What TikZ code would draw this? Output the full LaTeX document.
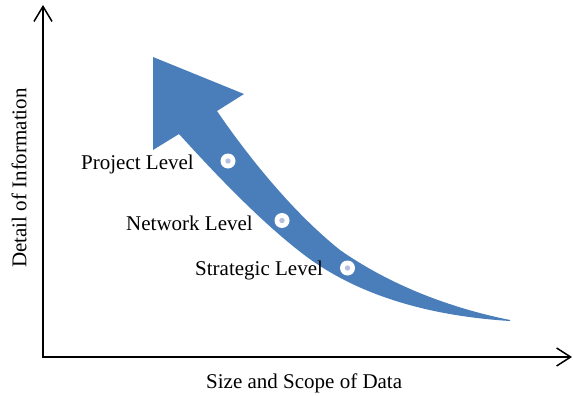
\documentclass[tikz,border=0pt]{standalone}
\usepackage{fontspec}
\setmainfont{Liberation Serif}
\usetikzlibrary{arrows.meta}
\definecolor{arrowblue}{RGB}{74,126,187}
\definecolor{dotblue}{RGB}{180,192,222}
\tikzset{
  axisline/.style={line width=1.5pt, black, {Straight Barb[length=15pt,width=18pt,line width=1.5pt]}-{Straight Barb[length=14pt,width=18pt,line width=1.5pt]}},
  lbl/.style={inner sep=0pt, anchor=base west, font=\fontsize{21}{25}\selectfont},
  ring/.style={circle, fill=white, minimum size=15pt, inner sep=0pt},
  ringdot/.style={circle, fill=dotblue, minimum size=5.4pt, inner sep=0pt}
}
\begin{document}
\begin{tikzpicture}[x=1pt,y=-1pt]
\useasboundingbox (0,0) rectangle (573,396);
% axes
\coordinate (O) at (43,357);
\coordinate (ytip) at (43,5);
\coordinate (xtip) at (572,357);
\draw[axisline] (ytip) -- (O) -- (xtip);
% curved arrow
\fill[arrowblue] (153,57) -- (244,94) -- (217,111)
  .. controls (245,152) and (290,210) .. (340,250)
  .. controls (390,285) and (450,308) .. (510,320)
  -- (510,321)
  .. controls (430,316) and (360,296) .. (307,257)
  .. controls (260,222) and (210,168) .. (179,134)
  -- (153,150) -- cycle;
% markers
\node[ring] (r1) at (228,161) {};
\node[ringdot] (d1) at (r1.center) {};
\node[ring] (r2) at (282,220.5) {};
\node[ringdot] (d2) at (r2.center) {};
\node[ring] (r3) at (347.5,268) {};
\node[ringdot] (d3) at (r3.center) {};
% labels
\node[lbl] (pl) at (81,169) {Project Level};
\node[lbl] (nl) at (126,230) {Network Level};
\node[lbl] (sl) at (195,275) {Strategic Level};
\node[lbl] (xl) at (206,388) {Size and Scope of Data};
\node[inner sep=0pt, anchor=base, rotate=90, font=\fontsize{21}{25}\selectfont] (yl) at (26.5,178) {Detail of Information};
\end{tikzpicture}
\end{document}
